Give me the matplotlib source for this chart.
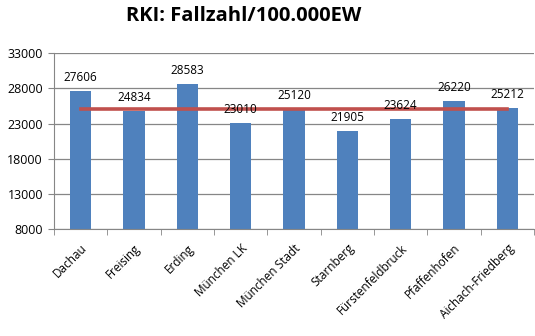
import numpy as np
import matplotlib.pyplot as plt

districts = ['Dachau', 'Freising', 'Erding', 'München LK', 'München Stadt',
             'Starnberg', 'Fürstenfeldbruck', 'Pfaffenhofen', 'Aichach-Friedberg']
cases = [27606, 24834, 28583, 23010, 25120, 21905, 23624, 26220, 25212]
mean_line = [25124] * len(districts)
yticks = [8000, 13000, 18000, 23000, 28000, 33000]

plt.rcParams['font.family'] = ['Open Sans', 'DejaVu Sans']

fig = plt.figure(figsize=(5.35, 3.36), dpi=100)
ax = fig.add_axes([0.101, 0.318, 0.897, 0.524])

x = np.arange(len(districts))
ax.bar(x, cases, width=0.4, color='#4F81BD', zorder=2)
ax.plot(x, mean_line, color='#C0504D', linewidth=2.6, zorder=3)

for xi, v in zip(x, cases):
    ax.annotate(str(v), (xi, v), xytext=(0, 5), textcoords='offset points',
                ha='center', va='bottom', fontsize=8.5)

ax.set_ylim(8000, 33000)
ax.set_xlim(-0.5, len(districts) - 0.5)
ax.set_yticks(yticks)
ax.set_yticklabels([str(t) for t in yticks], fontsize=9)
ax.yaxis.grid(True, color='#868686', linewidth=0.9, zorder=0)

ax.set_xticks(x)
ax.set_xticklabels(districts, rotation=45, ha='right', rotation_mode='anchor', fontsize=8.5)
ax.tick_params(axis='x', length=0, pad=9)
ax.set_xticks(np.arange(-0.5, len(districts)), minor=True)
ax.tick_params(axis='x', which='minor', length=4, color='#868686')
ax.tick_params(axis='y', length=4, color='#868686', pad=4)

for side in ['top', 'right']:
    ax.spines[side].set_visible(False)
for side in ['left', 'bottom']:
    ax.spines[side].set_color('#868686')

fig.text(244 / 535, 1 - 16 / 336, 'RKI: Fallzahl/100.000EW', ha='center', va='center',
         fontsize=14.5, fontweight='bold')

fig.savefig('out.png', dpi=100)
